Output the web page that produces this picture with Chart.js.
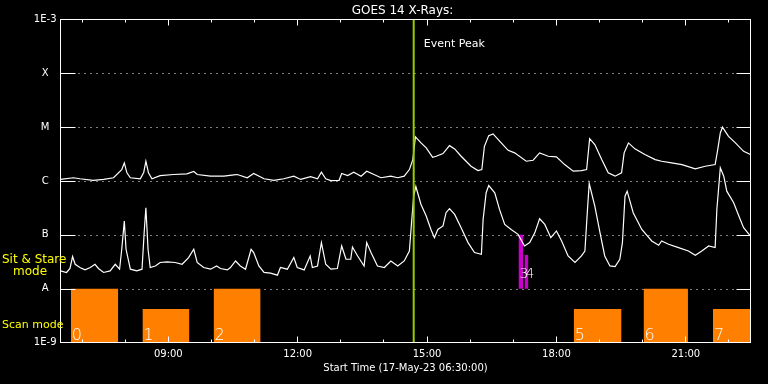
<!DOCTYPE html>
<html><head><meta charset="utf-8">
<script src="https://cdn.jsdelivr.net/npm/chart.js@4/dist/chart.umd.min.js"></script>
<style>html,body{margin:0;padding:0;background:#000;overflow:hidden}</style>
</head><body>
<canvas id="c" width="768" height="384"></canvas>
<script>
// ---- data (hours of day, W/m^2) ----
const longTime=[6.5,6.80,6.95,7.26,7.50,7.73,7.92,7.98,8.04,8.12,
8.35,8.43,8.48,8.54,8.62,8.81,9.12,9.43,9.59,9.67,
9.98,10.29,10.52,10.60,10.83,10.98,11.22,11.45,11.68,11.91,
12.07,12.30,12.46,12.55,12.65,12.77,12.96,13.02,13.16,13.30,
13.47,13.60,13.77,13.93,14.16,14.32,14.47,14.59,14.67,14.73,
14.86,14.98,15.13,15.21,15.37,15.52,15.64,15.79,16.02,16.18,
16.27,16.33,16.43,16.53,16.72,16.88,17.03,17.30,17.46,17.61,
17.81,18.00,18.19,18.39,18.58,18.70,18.77,18.89,19.05,19.20,
19.36,19.51,19.57,19.67,19.82,20.05,20.29,20.44,20.67,20.91,
21.22,21.45,21.68,21.74,21.80,21.85,21.99,22.15,22.34,22.5];
const longFlux=[1.07e-6,1.15e-6,1.10e-6,1.03e-6,1.07e-6,1.15e-6,1.63e-6,2.17e-6,1.42e-6,1.15e-6,
1.10e-6,1.44e-6,2.33e-6,1.42e-6,1.10e-6,1.26e-6,1.32e-6,1.36e-6,1.50e-6,1.32e-6,
1.23e-6,1.23e-6,1.30e-6,1.32e-6,1.15e-6,1.38e-6,1.10e-6,1.03e-6,1.10e-6,1.23e-6,
1.07e-6,1.20e-6,1.10e-6,1.46e-6,1.10e-6,1.02e-6,1.03e-6,1.38e-6,1.26e-6,1.46e-6,
1.23e-6,1.52e-6,1.32e-6,1.15e-6,1.23e-6,1.15e-6,1.23e-6,1.63e-6,2.50e-6,6.6e-6,
5.10e-6,4.12e-6,2.76e-6,2.88e-6,3.23e-6,4.54e-6,3.95e-6,2.88e-6,1.88e-6,1.56e-6,
1.63e-6,4.41e-6,6.96e-6,7.48e-6,5.10e-6,3.72e-6,3.33e-6,2.33e-6,2.43e-6,3.33e-6,
2.88e-6,2.81e-6,2.02e-6,1.52e-6,1.56e-6,1.63e-6,6.12e-6,4.74e-6,2.50e-6,1.42e-6,
1.23e-6,1.42e-6,3.33e-6,5.10e-6,3.95e-6,3.10e-6,2.50e-6,2.33e-6,2.17e-6,2.02e-6,
1.68e-6,1.88e-6,2.02e-6,3.83e-6,7.81e-6,1.00e-5,6.75e-6,5.10e-6,3.56e-6,3.10e-6];
const shortTime=[6.5,6.64,6.72,6.78,6.84,6.95,7.07,7.19,7.30,7.38,
7.50,7.65,7.77,7.87,7.92,7.98,8.02,8.12,8.27,8.39,
8.44,8.48,8.53,8.58,8.70,8.81,8.97,9.16,9.32,9.47,
9.59,9.67,9.82,9.98,10.12,10.21,10.37,10.44,10.56,10.67,
10.79,10.92,10.98,11.10,11.22,11.37,11.53,11.60,11.76,11.91,
11.99,12.15,12.29,12.34,12.46,12.55,12.65,12.77,12.92,13.02,
13.12,13.23,13.27,13.39,13.54,13.60,13.70,13.85,14.01,14.16,
14.32,14.47,14.59,14.64,14.69,14.74,14.86,14.98,15.09,15.17,
15.25,15.37,15.44,15.52,15.64,15.79,15.95,16.10,16.26,16.30,
16.37,16.43,16.57,16.68,16.80,16.95,17.11,17.26,17.38,17.50,
17.61,17.73,17.87,18.00,18.12,18.27,18.43,18.58,18.66,18.72,
18.76,18.89,19.01,19.12,19.24,19.36,19.47,19.53,19.59,19.64,
19.78,19.98,20.21,20.37,20.44,20.60,20.83,21.06,21.22,21.37,
21.53,21.68,21.72,21.80,21.88,21.95,22.11,22.23,22.34,22.5];
const shortFlux=[2.14e-8,2.00e-8,2.37e-8,3.95e-8,2.84e-8,2.47e-8,2.23e-8,2.47e-8,2.84e-8,2.37e-8,
2.00e-8,2.14e-8,2.84e-8,2.30e-8,5.39e-8,1.80e-7,5.39e-8,2.30e-8,2.14e-8,2.30e-8,
1.10e-7,3.19e-7,5.39e-8,2.47e-8,2.64e-8,3.06e-8,3.14e-8,3.06e-8,2.84e-8,3.78e-8,
5.39e-8,3.06e-8,2.47e-8,2.30e-8,2.64e-8,2.37e-8,2.23e-8,2.47e-8,3.27e-8,2.64e-8,
2.30e-8,5.39e-8,4.68e-8,2.64e-8,2.00e-8,1.94e-8,1.78e-8,2.47e-8,2.30e-8,3.78e-8,
2.47e-8,2.23e-8,4.05e-8,2.47e-8,2.64e-8,7.17e-8,2.84e-8,2.30e-8,2.37e-8,6.20e-8,
3.52e-8,3.52e-8,5.94e-8,4.05e-8,2.64e-8,7.17e-8,4.68e-8,2.64e-8,2.47e-8,3.27e-8,
2.64e-8,3.27e-8,5.01e-8,1.68e-7,5.23e-7,7.91e-7,3.67e-7,2.23e-7,1.26e-7,8.87e-8,
1.26e-7,1.46e-7,2.58e-7,3.06e-7,2.40e-7,1.36e-7,7.17e-8,4.68e-8,4.35e-8,1.94e-7,
6.05e-7,8.25e-7,6.05e-7,2.97e-7,1.56e-7,1.26e-7,1.02e-7,6.20e-8,7.17e-8,1.10e-7,
1.99e-7,1.56e-7,8.87e-8,1.18e-7,7.68e-8,4.05e-8,3.06e-8,4.05e-8,5.01e-8,2.97e-7,
8.99e-7,3.42e-7,1.10e-7,4.05e-8,2.64e-8,2.58e-8,3.52e-8,7.17e-8,5.23e-7,6.47e-7,
2.58e-7,1.26e-7,7.68e-8,6.39e-8,7.68e-8,6.67e-8,5.79e-8,5.01e-8,4.17e-8,5.01e-8,
6.20e-8,5.79e-8,2.97e-7,1.76e-6,1.23e-6,6.47e-7,3.95e-7,2.23e-7,1.36e-7,9.50e-8];
const scanStart=[6.74,8.40,10.05,18.40,20.02,21.63];
const scanEnd=[7.84,9.49,11.14,19.51,21.05,22.70];
const scanTop=[1e-8,4.2e-9,1e-8,4.2e-9,1e-8,4.2e-9];
const scanLabels=['0','1','2','5','6','7'];
const sitStart=[17.12,17.26];
const sitEnd=[17.23,17.35];
const sitTop=[1e-7,4.2e-8];
const sitLabels=['3','4'];
const eventPeak=14.69;
const xTickHours=[9,12,15,18,21];
const xTickLabels=['09:00','12:00','15:00','18:00','21:00'];
const yTickValues=[1e-9,1e-8,1e-7,1e-6,1e-5,1e-4,1e-3];
const yTickLabels=['1E-9','A','B','C','M','X','1E-3'];
const gridLevels=[1e-8,1e-7,1e-6,1e-5,1e-4];
const titleText='GOES 14 X-Rays:';
const xTitle='Start Time (17-May-23 06:30:00)';

// ---- datasets ----
const FONT='DejaVu Sans';
const ORANGE='#ff8000', MAGENTA='#c800c8', GREEN='#99cc00';
const lineDs=(t,v)=>({type:'line',data:t.map((x,i)=>({x:x,y:v[i]})),borderColor:'#fff',borderWidth:1.2,
  pointRadius:0,tension:0,fill:false,order:2});
const datasets=[lineDs(longTime,longFlux),lineDs(shortTime,shortFlux)];
scanStart.forEach((s,i)=>datasets.push({type:'line',data:[{x:s,y:scanTop[i]},{x:scanEnd[i],y:scanTop[i]}],
  borderWidth:0,borderColor:'rgba(0,0,0,0)',backgroundColor:ORANGE,fill:'start',pointRadius:0,order:5,
  clip:{left:0,top:0,right:10,bottom:0}}));
sitStart.forEach((s,i)=>datasets.push({type:'line',data:[{x:s,y:sitTop[i]},{x:sitEnd[i],y:sitTop[i]}],
  borderWidth:0,borderColor:'rgba(0,0,0,0)',backgroundColor:MAGENTA,fill:{value:1e-8},pointRadius:0,order:5}));
datasets.push({type:'line',data:[{x:eventPeak,y:1e-9},{x:eventPeak,y:1e-3}],borderColor:GREEN,borderWidth:2,
  pointRadius:0,fill:false,order:1});

const decor={
  id:'decor',
  beforeDatasetsDraw(chart){
    const {ctx,chartArea:a,scales:{y}}=chart;
    ctx.save();
    ctx.strokeStyle='#fff';ctx.lineWidth=1;ctx.setLineDash([1,5]);
    gridLevels.forEach(v=>{
      const py=Math.round(y.getPixelForValue(v))+0.5;
      ctx.beginPath();ctx.moveTo(a.left+18,py);ctx.lineTo(a.right-15,py);ctx.stroke();
    });
    ctx.restore();
  },
  afterDatasetsDraw(chart){
    const {ctx,chartArea:a,scales:{x,y}}=chart;
    ctx.save();
    ctx.strokeStyle='#fff';ctx.lineWidth=1;
    ctx.strokeRect(a.left,a.top,a.right-a.left,a.bottom-a.top);
    gridLevels.forEach(v=>{
      const py=Math.round(y.getPixelForValue(v))+0.5;
      ctx.beginPath();ctx.moveTo(a.left,py);ctx.lineTo(a.left+15,py);
      ctx.moveTo(a.right-14,py);ctx.lineTo(a.right,py);ctx.stroke();
    });
    for(let h=7;h<=22;h++){
      const px=Math.floor(x.getPixelForValue(h))+0.5;
      const len=(h%3===0)?6:3;
      ctx.beginPath();ctx.moveTo(px,a.top);ctx.lineTo(px,a.top+len);
      ctx.moveTo(px,a.bottom);ctx.lineTo(px,a.bottom-len);ctx.stroke();
    }
    // bar labels
    ctx.fillStyle='#fff';ctx.textBaseline='alphabetic';ctx.textAlign='left';
    ctx.font='200 16px "'+FONT+'"';
    scanStart.forEach((s,i)=>ctx.fillText(scanLabels[i],x.getPixelForValue(s)+1,a.bottom-3));
    ctx.font='200 14px "'+FONT+'"';
    sitStart.forEach((s,i)=>ctx.fillText(sitLabels[i],x.getPixelForValue(s)+1,277.5));
    ctx.restore();
  },
  afterDraw(chart){
    const {ctx,chartArea:a,scales:{x}}=chart;
    ctx.save();
    ctx.textBaseline='alphabetic';
    ctx.fillStyle='#fff';ctx.textAlign='center';
    ctx.font='12px "'+FONT+'"';
    ctx.fillText(titleText,(a.left+a.right)/2-3,14);
    ctx.textAlign='left';ctx.font='11px "'+FONT+'"';
    ctx.fillText('Event Peak',x.getPixelForValue(eventPeak)+10,47);
    ctx.fillStyle='#ffff00';
    ctx.font='12px "'+FONT+'"';
    ctx.fillText('Sit & Stare',2,263);
    ctx.fillText('mode',13,275);
    ctx.font='11px "'+FONT+'"';
    ctx.fillText('Scan mode',2,328);
    ctx.restore();
  }
};

new Chart(document.getElementById('c'),{
  type:'line',
  data:{datasets:datasets},
  options:{
    responsive:false,animation:false,devicePixelRatio:1,
    layout:{padding:{top:19.5,right:17.5,left:0,bottom:0}},
    plugins:{legend:{display:false},tooltip:{enabled:false},title:{display:false}},
    scales:{
      x:{type:'linear',min:6.5,max:22.5,position:'bottom',
        afterBuildTicks:s=>{s.ticks=xTickHours.map(v=>({value:v}));},
        afterFit:s=>{s.height=41.5;},
        grid:{display:false,drawTicks:false},border:{display:false},
        ticks:{color:'#fff',font:{family:FONT,size:10},padding:6,maxRotation:0,autoSkip:false,
          callback:(v,i)=>xTickLabels[i]},
        title:{display:true,text:xTitle,color:'#fff',font:{family:FONT,size:10},padding:{top:0,bottom:10}}},
      y:{type:'logarithmic',min:1e-9,max:1e-3,position:'left',
        afterBuildTicks:s=>{s.ticks=yTickValues.map(v=>({value:v}));},
        afterFit:s=>{s.width=60.5;},
        grid:{display:false,drawTicks:false},border:{display:false},
        ticks:{color:'#fff',font:{family:FONT,size:10},padding:4,crossAlign:'center',autoSkip:false,
          callback:(v,i)=>yTickLabels[i]}}
    }
  },
  plugins:[decor]
});
</script>
</body></html>
